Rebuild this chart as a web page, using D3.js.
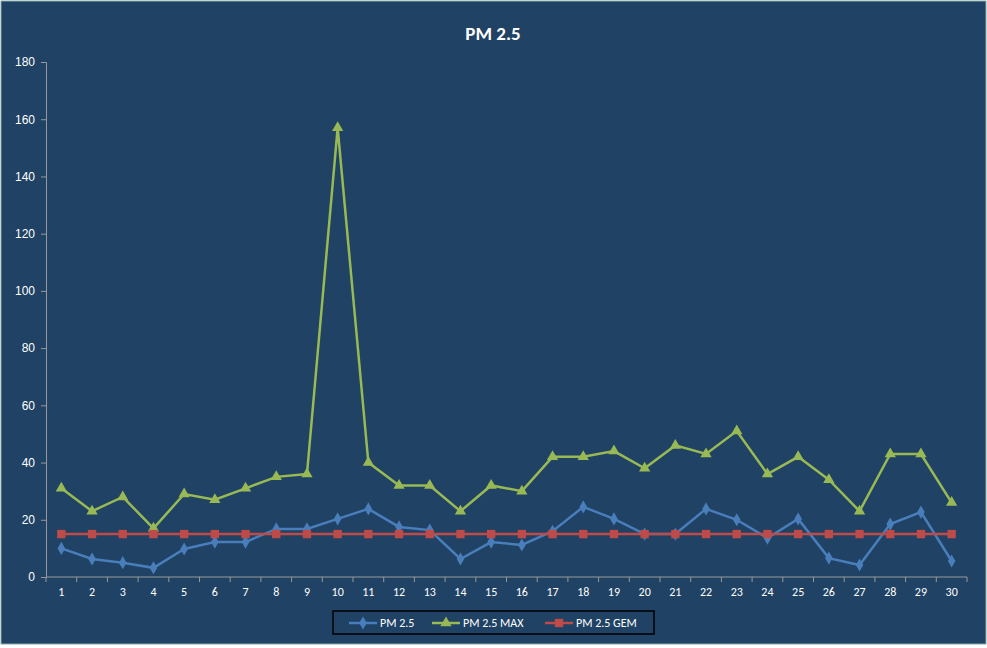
<!DOCTYPE html><html><head><meta charset="utf-8"><script src="https://cdn.jsdelivr.net/npm/d3@7"></script>
<style>body{margin:0;background:#fff}svg{display:block;font-family:Calibri,"Liberation Sans",Arial,sans-serif}</style></head><body><svg id="c" width="987" height="648"></svg><script>
const days = d3.range(1,31).map(String);
const pm25 = [10,6.3,5,3.2,9.8,12.2,12.2,16.8,16.8,20.3,23.8,17.5,16.4,6.3,12.2,11.2,16,24.5,20.3,15,15,23.8,20,13.6,20.3,6.6,4.2,18.5,22.7,5.6];
const pm25max = [31,23,28,17,29,27,31,35,36,157,40,32,32,23,32,30,42,42,44,38,46,43,51,36,42,34,23,43,43,26];
const pm25gem = days.map(()=>15);
const yTicks = [0,20,40,60,80,100,120,140,160,180];
const svg = d3.select("#c");
svg.append("rect").attr("x",1).attr("y",1).attr("width",985).attr("height",643).attr("fill","#1f4265").attr("stroke","#8aa").attr("stroke-width",1);
svg.append("text").attr("x",493).attr("y",40).attr("text-anchor","middle").attr("fill","#fff").attr("font-size",19).attr("font-weight","bold").text("PM 2.5");
const x = d3.scaleBand().domain(days).range([46,967]);
const y = d3.scaleLinear().domain([0,180]).range([577,62]);
const ya = svg.append("g").attr("transform","translate(46,0)").call(d3.axisLeft(y).tickValues(yTicks).tickSize(5).tickPadding(6));
const xa = svg.append("g").attr("transform","translate(0,577)").call(d3.axisBottom(y.copy()).tickValues([]).tickSize(0));
xa.remove();
const xg = svg.append("g").attr("transform","translate(0,577)");
xg.append("line").attr("x1",46).attr("x2",967).attr("stroke","#999");
d3.range(31).forEach(i=>{const xx=46+i*x.bandwidth();xg.append("line").attr("x1",xx).attr("x2",xx).attr("y1",0).attr("y2",5).attr("stroke","#999");});
days.forEach(d=>xg.append("text").attr("x",x(d)+x.bandwidth()/2).attr("y",19).attr("text-anchor","middle").attr("fill","#fff").attr("font-size",12).text(d));
ya.selectAll("path,line").attr("stroke","#999");
ya.selectAll("text").attr("fill","#fff").attr("font-size",12);
const cx = d=>x(d)+x.bandwidth()/2;
const series=[{v:pm25,c:"#4a7ebb",m:"diamond",n:"PM 2.5"},{v:pm25max,c:"#98b954",m:"triangle",n:"PM 2.5 MAX"},{v:pm25gem,c:"#be4b48",m:"square",n:"PM 2.5 GEM"}];
const sym={diamond:d3.symbolDiamond,triangle:d3.symbolTriangle,square:d3.symbolSquare};
const sz={diamond:50,triangle:55,square:70};
series.forEach(s=>{
 svg.append("path").attr("d",d3.line().x((v,i)=>cx(days[i])).y(v=>y(v))(s.v)).attr("fill","none").attr("stroke",s.c).attr("stroke-width",2.5);
 svg.selectAll(null).data(s.v).enter().append("path").attr("d",d3.symbol(sym[s.m],sz[s.m])).attr("transform",(v,i)=>`translate(${cx(days[i])},${y(v)})`).attr("fill",s.c);
});
const lg=svg.append("g");
lg.append("rect").attr("x",333).attr("y",611).attr("width",321).attr("height",23).attr("fill","none").attr("stroke","#000").attr("stroke-width",1.5);
const lx=[349,432,545];
series.forEach((s,i)=>{
 lg.append("line").attr("x1",lx[i]).attr("x2",lx[i]+28).attr("y1",623).attr("y2",623).attr("stroke",s.c).attr("stroke-width",2.5);
 lg.append("path").attr("d",d3.symbol(sym[s.m],sz[s.m])).attr("transform",`translate(${lx[i]+14},623)`).attr("fill",s.c);
 lg.append("text").attr("x",lx[i]+31).attr("y",627).attr("fill","#fff").attr("font-size",12).text(s.n);
});
</script></body></html>
